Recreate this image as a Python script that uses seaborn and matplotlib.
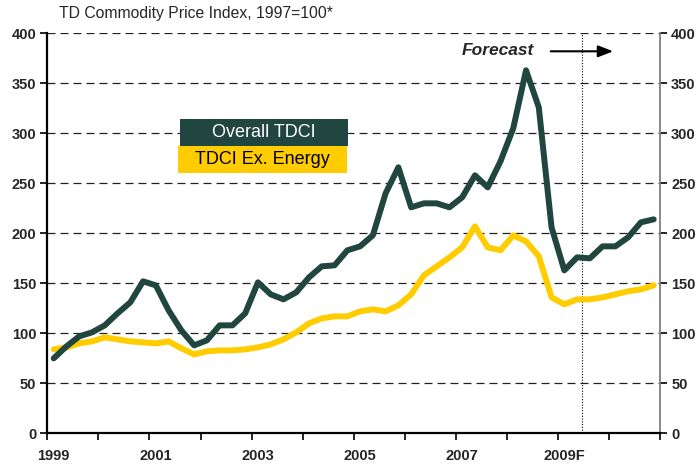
import numpy as np
import pandas as pd
import matplotlib
matplotlib.use('Agg')
import matplotlib.pyplot as plt
from matplotlib.patches import Rectangle
import seaborn as sns

# Quarterly index values, 1999Q1 - 2010Q4 (forecast from mid-2009)
quarters = [f"{y}Q{q}" for y in range(1999, 2011) for q in range(1, 5)]
overall_tdci = [75, 87, 97, 101, 108, 120, 131, 152, 148, 123, 103, 88,
                93, 108, 108, 120, 151, 139, 134, 141, 156, 167, 168, 183,
                187, 198, 240, 266, 226, 230, 230, 226, 236, 258, 246, 272,
                305, 363, 326, 206, 163, 176, 175, 187, 187, 196, 211, 214]
tdci_ex_energy = [84, 86, 90, 92, 96, 94, 92, 91, 90, 92, 85, 79,
                  82, 83, 83, 84, 86, 89, 94, 101, 110, 115, 117, 117,
                  122, 124, 122, 128, 139, 158, 167, 176, 186, 207, 186, 183,
                  198, 192, 177, 136, 129, 134, 134, 136, 139, 142, 144, 148]
year_labels = ['1999', '2001', '2003', '2005', '2007', '2009F']
y_ticks = [0, 50, 100, 150, 200, 250, 300, 350, 400]
forecast_start = 41.4  # boundary between 2009Q2 and 2009Q3

DARK = '#21463F'
YELLOW = '#FFCC00'

sns.set_style('white')
plt.rcParams['font.family'] = ['Liberation Sans', 'DejaVu Sans']

df = pd.DataFrame({
    'idx': np.arange(len(quarters)),
    'Overall TDCI': overall_tdci,
    'TDCI Ex. Energy': tdci_ex_energy,
})
long = df.melt(id_vars='idx', var_name='series', value_name='value')

fig = plt.figure(figsize=(6.97, 4.65), dpi=100)
ax = fig.add_axes([0.0679, 0.068, 0.8791, 0.8604])

# dashed gridlines
for v in y_ticks[1:]:
    ax.axhline(v, color='#222222', linestyle=(0, (6.4, 4)), linewidth=0.9, zorder=1)

sns.lineplot(data=long, x='idx', y='value', hue='series',
             palette={'Overall TDCI': DARK, 'TDCI Ex. Energy': YELLOW},
             hue_order=['TDCI Ex. Energy', 'Overall TDCI'],
             linewidth=4.3, legend=False, ax=ax, zorder=3)

ax.axvline(forecast_start, color='black', linestyle=(0, (1, 1.5)), linewidth=0.8, zorder=2)

n = len(quarters)
ax.set_xlim(-0.5, n - 0.5)
ax.set_ylim(0, 400)
ax.set_xticks(np.arange(-0.5, n, 4))
ax.set_xticklabels([])
ax.set_xticks(np.arange(0, n, 8), minor=True)
ax.set_xticklabels(year_labels, minor=True, fontsize=10.5, fontweight='bold')
ax.tick_params(axis='x', which='major', direction='out', length=5, width=1.2,
               color='black', bottom=True)
ax.tick_params(axis='x', which='minor', length=0, pad=11)
ax.set_yticks(y_ticks)
ax.set_yticklabels([str(v) for v in y_ticks], fontsize=10.5, fontweight='bold')
ax.tick_params(axis='y', direction='out', length=5, width=1.2, color='black',
               left=True, right=True, labelleft=True, labelright=True, pad=3)
ax.set_xlabel('')
ax.set_ylabel('')

for side in ['left', 'bottom']:
    ax.spines[side].set_color('black')
    ax.spines[side].set_linewidth(1.6)
ax.spines['right'].set_color('#808080')
ax.spines['right'].set_linewidth(1.3)
ax.spines['top'].set_visible(False)

fig.text(0.084, 0.972, 'TD Commodity Price Index, 1997=100*', fontsize=11.3,
         ha='left', va='center')

# legend boxes
ax.add_patch(Rectangle((0.2166, 0.718), 0.2742, 0.068, transform=ax.transAxes,
                       facecolor=DARK, edgecolor='none', zorder=5))
ax.text(0.3537, 0.752, 'Overall TDCI', transform=ax.transAxes, color='white',
        fontsize=13, ha='center', va='center', zorder=6)
ax.add_patch(Rectangle((0.2133, 0.651), 0.2758, 0.067, transform=ax.transAxes,
                       facecolor=YELLOW, edgecolor='none', zorder=5))
ax.text(0.3512, 0.6845, 'TDCI Ex. Energy', transform=ax.transAxes, color='black',
        fontsize=13, ha='center', va='center', zorder=6)

# forecast annotation
ax.text(0.676, 0.9565, 'Forecast', transform=ax.transAxes, fontsize=12.5,
        fontweight='bold', fontstyle='italic', ha='left', va='center')
ax.annotate('', xy=(0.928, 0.955), xytext=(0.817, 0.955), xycoords='axes fraction',
            arrowprops=dict(arrowstyle='-|>,head_length=0.9,head_width=0.35',
                            color='black', lw=1.5))

fig.savefig('out.png', dpi=100)
